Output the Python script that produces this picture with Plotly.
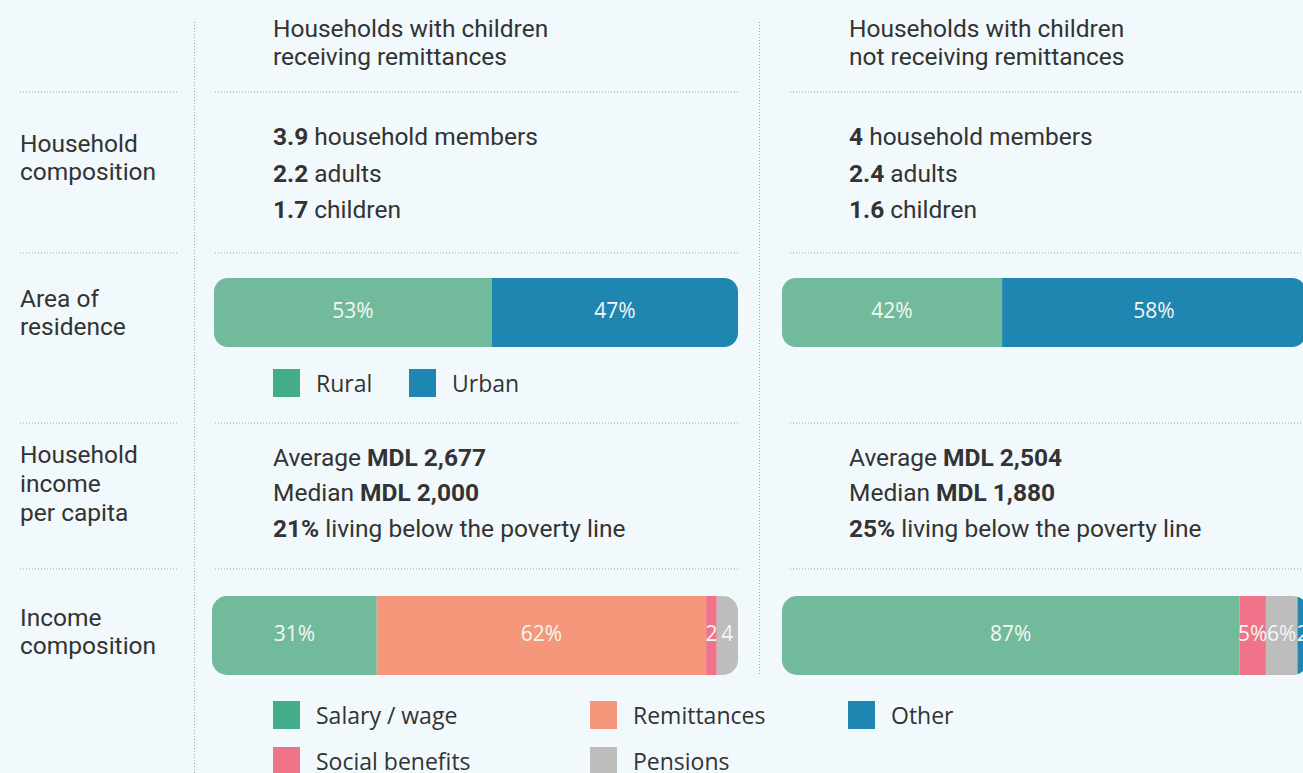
import plotly.graph_objects as go

# ---------------- data ----------------
column_titles = [["Households with children", "receiving remittances"],
                 ["Households with children", "not receiving remittances"]]
row_labels = [["Household", "composition"], ["Area of", "residence"],
              ["Household", "income", "per capita"], ["Income", "composition"]]

members = ["3.9", "4"]
adults = ["2.2", "2.4"]
children = ["1.7", "1.6"]
avg_income = ["2,677", "2,504"]
median_income = ["2,000", "1,880"]
poverty_share = ["21%", "25%"]

area_categories = ["Rural", "Urban"]
area_values = [[53, 47], [42, 58]]
area_labels = [["53%", "47%"], ["42%", "58%"]]

income_categories = ["Salary / wage", "Remittances", "Social benefits", "Pensions", "Other"]
income_values = [[31, 62, 2, 4, 0], [87, 0, 5, 6, 2]]
income_labels = [["31%", "62%", "2", "4", ""], ["87%", "", "5%", "6%", "2"]]

# ---------------- style ----------------
W, H = 1303, 773
BG = "#F2F9FC"
TXT = "#333333"
bar_colors = {"Rural": "#72BA9C", "Urban": "#1F86B2", "Salary / wage": "#72BA9C",
              "Remittances": "#F5977A", "Social benefits": "#F07389",
              "Pensions": "#BDBDBD", "Other": "#1F86B2"}
legend_colors = {"Rural": "#43AC88", "Urban": "#1F86B2", "Salary / wage": "#43AC88",
                 "Remittances": "#F5977A", "Social benefits": "#F07389",
                 "Pensions": "#BDBDBD", "Other": "#1F86B2"}

def px(x):
    return x / W

def py(y):
    return 1 - y / H

fig = go.Figure()

# bar groups: categories, values, labels, x0, x1 (domain), full width px, y top, y bottom, radius
groups = [
    (area_categories, area_values[0], area_labels[0], 214, 738, 524, 278, 347, 14),
    (income_categories, income_values[0], income_labels[0], 212, 738, 526, 596, 675, 15),
    (area_categories, area_values[1], area_labels[1], 782, 1303, 524, 278, 347, 14),
    (income_categories, income_values[1], income_labels[1], 782, 1303, 526, 596, 675, 15),
]

layout_axes = {}
for k, (cats, vals, labs, x0, x1, fullw, yt, yb, rad) in enumerate(groups, start=1):
    segs = [(c, v, l) for c, v, l in zip(cats, vals, labs) if v > 0]
    total = sum(s[1] for s in segs)
    first_v = segs[0][1]
    xa = "x" if k == 1 else f"x{k}"
    ya = "y" if k == 1 else f"y{k}"
    # first segment stacks to the left of 0, the rest to the right,
    # so that both outer ends of the bar get rounded corners
    centers, texts = [], []
    cum = 0
    for i, (c, v, l) in enumerate(segs):
        if i == 0:
            length = -v
            centers.append(-v / 2)
        else:
            length = v
            centers.append(cum + v / 2)
            cum += v
        texts.append(l)
        fig.add_trace(go.Bar(
            x=[length], y=[0], orientation="h", width=1,
            marker=dict(color=bar_colors[c], line=dict(width=0), cornerradius=rad),
            xaxis=xa, yaxis=ya, showlegend=False, hoverinfo="skip"))
    fig.add_trace(go.Scatter(
        x=centers, y=[0] * len(centers), mode="text", text=texts,
        textposition="middle center",
        textfont=dict(family="Open Sans", size=21, color="#F4F7F4"),
        xaxis=xa, yaxis=ya, showlegend=False, hoverinfo="skip"))
    span = total * (x1 - x0) / fullw
    layout_axes["xaxis" if k == 1 else f"xaxis{k}"] = dict(
        domain=[px(x0), px(x1)], range=[-first_v, span - first_v], visible=False,
        fixedrange=True, anchor=ya)
    layout_axes["yaxis" if k == 1 else f"yaxis{k}"] = dict(
        domain=[py(yb), py(yt)], range=[-0.5, 0.5], visible=False,
        fixedrange=True, anchor=xa)

annotations = []

def add_text(x, y, text, size=24.5, family="Roboto", color=TXT):
    annotations.append(dict(x=px(x), y=py(y), xref="paper", yref="paper",
                            text=text, showarrow=False, xanchor="left",
                            yanchor="middle", align="left", borderpad=0,
                            font=dict(family=family, size=size, color=color)))

# column titles
for x, lines in zip([272, 848], column_titles):
    for y, t in zip([28, 57], lines):
        add_text(x, y, t)

# row labels
for y0, lines in zip([143, 298, 455, 617], row_labels):
    for j, t in enumerate(lines):
        add_text(19, y0 + 28.5 * j, t)

# panel texts
for x, m, a, c, av, md, pv in zip([272, 848], members, adults, children,
                                   avg_income, median_income, poverty_share):
    add_text(x, 136, f"<b>{m}</b> household members")
    add_text(x, 173, f"<b>{a}</b> adults")
    add_text(x, 209, f"<b>{c}</b> children")
    add_text(x, 457, f"Average <b>MDL {av}</b>")
    add_text(x, 492, f"Median <b>MDL {md}</b>")
    add_text(x, 528, f"<b>{pv}</b> living below the poverty line")

shapes = []

# legends
legend_items = [
    ("Rural", 273, 383), ("Urban", 409, 383),
    ("Salary / wage", 273, 715), ("Remittances", 590, 715), ("Other", 848, 715),
    ("Social benefits", 273, 761), ("Pensions", 590, 761),
]
for name, lx, ly in legend_items:
    shapes.append(dict(type="rect", xref="paper", yref="paper",
                       x0=px(lx), x1=px(lx + 27), y0=py(ly + 14), y1=py(ly - 14),
                       fillcolor=legend_colors[name], line=dict(width=0)))
    add_text(lx + 42, ly, name, size=23, family="Open Sans")

# dotted separators
dot = dict(color="#A5A5A5", width=1, dash="1px,2px")
for y in [92, 253, 423, 569]:
    for xa_, xb_ in [(20, 178), (215, 740), (790, 1303)]:
        shapes.append(dict(type="line", xref="paper", yref="paper",
                           x0=px(xa_), x1=px(xb_), y0=py(y), y1=py(y), line=dot))
shapes.append(dict(type="line", xref="paper", yref="paper",
                   x0=px(194.5), x1=px(194.5), y0=py(22), y1=py(773), line=dot))
shapes.append(dict(type="line", xref="paper", yref="paper",
                   x0=px(759.5), x1=px(759.5), y0=py(22), y1=py(675), line=dot))

fig.update_layout(
    width=W, height=H, margin=dict(l=0, r=0, t=0, b=0),
    paper_bgcolor=BG, plot_bgcolor="rgba(0,0,0,0)",
    barmode="relative", showlegend=False,
    annotations=annotations, shapes=shapes,
    **layout_axes)

fig.write_html("out.html", config={"displayModeBar": False})

# remove the browser's default page margin so the figure sits at the top-left corner
with open("out.html", "r", encoding="utf-8") as f:
    html = f.read()
html = html.replace("<body>", '<body style="margin:0;background:#F2F9FC;">', 1)
with open("out.html", "w", encoding="utf-8") as f:
    f.write(html)
